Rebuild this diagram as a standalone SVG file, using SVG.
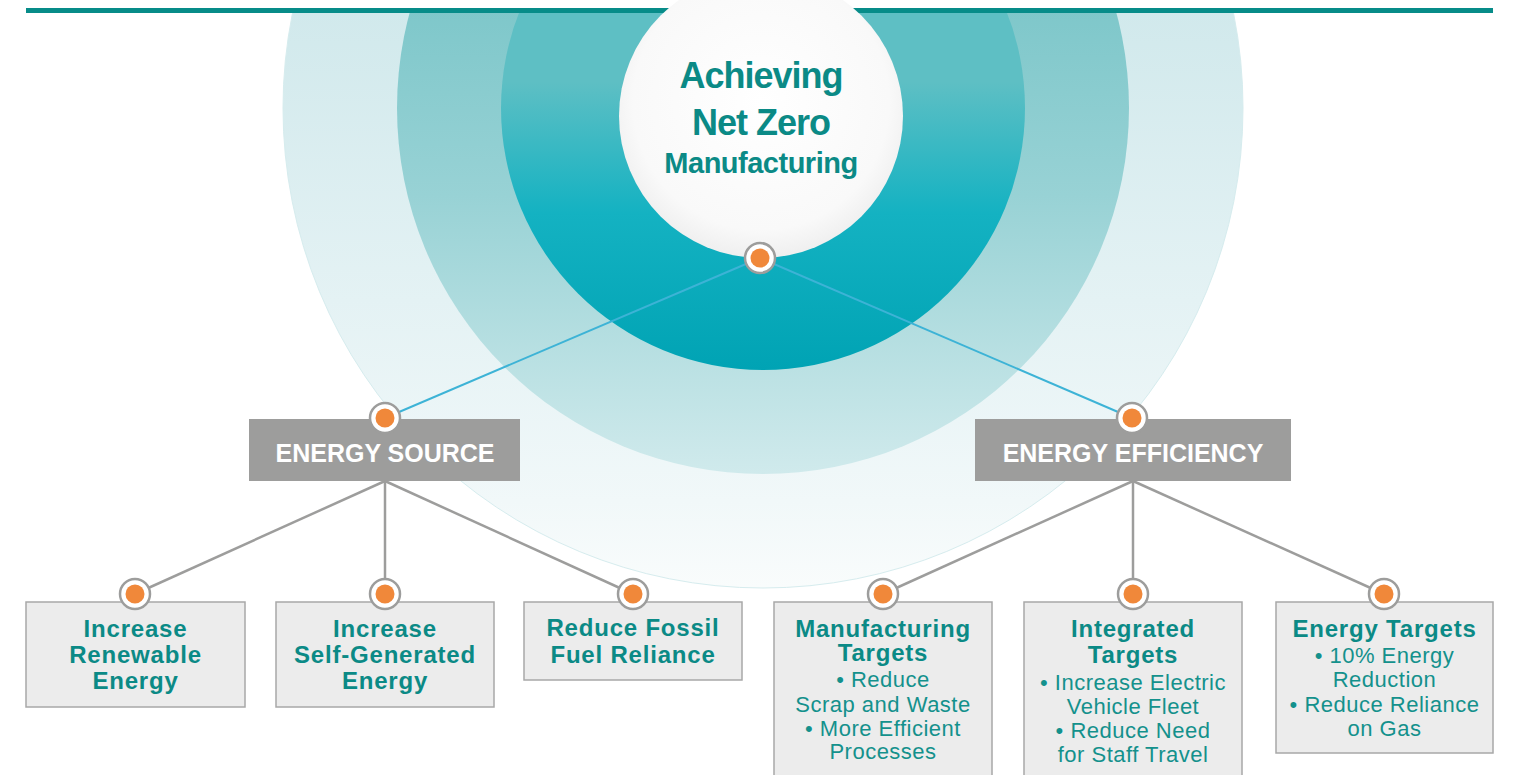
<svg xmlns="http://www.w3.org/2000/svg" width="1516" height="775" viewBox="0 0 1516 775">
  <style>
    .box { fill: #ececec; stroke: #a8a8a8; stroke-width: 1.5; }
    .head { fill: #9d9d9c; }
    .head-text { font-family: "Liberation Sans", Arial, sans-serif; font-weight: bold; font-size: 25px; fill: #ffffff; text-anchor: middle; }
    .title { font-family: "Liberation Sans", Arial, sans-serif; font-weight: bold; fill: #0b8a86; text-anchor: middle; }
    .lbl { font-family: "Liberation Sans", Arial, sans-serif; font-weight: bold; font-size: 24px; letter-spacing: 0.8px; fill: #0b8a86; text-anchor: middle; }
    .sub { font-family: "Liberation Sans", Arial, sans-serif; font-size: 22px; letter-spacing: 0.5px; fill: #14918c; text-anchor: middle; }
    .blue { stroke: #3db3d6; stroke-width: 2; fill: none; }
    .grey { stroke: #9d9d9c; stroke-width: 2.5; fill: none; }
    .ring { fill: #ffffff; stroke: #9d9d9c; stroke-width: 2.5; }
    .dot { fill: #f0883a; }
  </style>
  <defs>
    <linearGradient id="gOuter" x1="0" y1="0" x2="0" y2="1">
      <stop offset="0" stop-color="#cfe8eb"/>
      <stop offset="0.4" stop-color="#d1e9ec"/>
      <stop offset="0.7" stop-color="#e4f2f4"/>
      <stop offset="0.91" stop-color="#f1f8f9"/>
      <stop offset="1" stop-color="#f9fcfc"/>
    </linearGradient>
    <linearGradient id="gMid" x1="0" y1="0" x2="0" y2="1">
      <stop offset="0" stop-color="#7cc6c9"/>
      <stop offset="0.36" stop-color="#7ec7ca"/>
      <stop offset="0.62" stop-color="#98d2d5"/>
      <stop offset="1" stop-color="#d0eaec"/>
    </linearGradient>
    <linearGradient id="gInner" x1="0" y1="0" x2="0" y2="1">
      <stop offset="0" stop-color="#5ebfc4"/>
      <stop offset="0.45" stop-color="#5ebfc4"/>
      <stop offset="0.7" stop-color="#14b2c2"/>
      <stop offset="1" stop-color="#00a3b4"/>
    </linearGradient>
    <radialGradient id="gCore" cx="0.5" cy="0.45" r="0.55">
      <stop offset="0" stop-color="#ffffff"/>
      <stop offset="0.82" stop-color="#f9f9f9"/>
      <stop offset="1" stop-color="#efefef"/>
    </radialGradient>
    <clipPath id="below-bar">
      <rect x="0" y="8" width="1516" height="767"/>
    </clipPath>
    <g id="marker-dot">
      <circle class="ring" r="15"/>
      <circle class="dot" r="9.5"/>
    </g>
  </defs>

  <rect width="1516" height="775" fill="#ffffff"/>

  <!-- concentric backdrop -->
  <g id="backdrop" clip-path="url(#below-bar)">
    <circle cx="763" cy="108" r="480" fill="url(#gOuter)" stroke="#d6ecee" stroke-width="1"/>
    <circle cx="763" cy="108" r="366" fill="url(#gMid)"/>
    <circle cx="763" cy="108" r="262" fill="url(#gInner)"/>
  </g>
  <rect id="top-bar" x="26" y="8" width="1467" height="5" fill="#078c89"/>

  <!-- connectors -->
  <g id="connectors">
    <line class="blue" x1="760" y1="258" x2="385" y2="418"/>
    <line class="blue" x1="760" y1="258" x2="1132" y2="418"/>
    <line class="grey" x1="385" y1="481" x2="135" y2="594"/>
    <line class="grey" x1="385" y1="481" x2="385" y2="594"/>
    <line class="grey" x1="385" y1="481" x2="633" y2="594"/>
    <line class="grey" x1="1133" y1="481" x2="883" y2="594"/>
    <line class="grey" x1="1133" y1="481" x2="1133" y2="594"/>
    <line class="grey" x1="1133" y1="481" x2="1384" y2="594"/>
  </g>

  <!-- central goal -->
  <g id="node-goal">
    <circle cx="761" cy="116" r="142" fill="url(#gCore)"/>
    <text class="title" x="761" y="88" font-size="36" letter-spacing="-1">Achieving</text>
    <text class="title" x="761" y="135" font-size="36" letter-spacing="-1">Net Zero</text>
    <text class="title" x="761" y="173" font-size="29" letter-spacing="-0.5">Manufacturing</text>
    <use href="#marker-dot" x="760" y="258"/>
  </g>

  <!-- branch headers -->
  <g id="node-energy-source">
    <rect class="head" x="249" y="419" width="271" height="62"/>
    <text class="head-text" x="385" y="462">ENERGY SOURCE</text>
    <use href="#marker-dot" x="385" y="418"/>
  </g>
  <g id="node-energy-efficiency">
    <rect class="head" x="975" y="419" width="316" height="62"/>
    <text class="head-text" x="1133" y="462">ENERGY EFFICIENCY</text>
    <use href="#marker-dot" x="1132" y="418"/>
  </g>

  <!-- energy source leaves -->
  <g id="node-renewable">
    <rect class="box" x="26" y="602" width="219" height="105"/>
    <text class="lbl" x="135.5" y="637">Increase</text>
    <text class="lbl" x="135.5" y="663">Renewable</text>
    <text class="lbl" x="135.5" y="689">Energy</text>
    <use href="#marker-dot" x="135" y="594"/>
  </g>
  <g id="node-self-generated">
    <rect class="box" x="276" y="602" width="218" height="105"/>
    <text class="lbl" x="385" y="637">Increase</text>
    <text class="lbl" x="385" y="663">Self-Generated</text>
    <text class="lbl" x="385" y="689">Energy</text>
    <use href="#marker-dot" x="385" y="594"/>
  </g>
  <g id="node-fossil">
    <rect class="box" x="524" y="602" width="218" height="78"/>
    <text class="lbl" x="633" y="636">Reduce Fossil</text>
    <text class="lbl" x="633" y="662.5">Fuel Reliance</text>
    <use href="#marker-dot" x="633" y="594"/>
  </g>

  <!-- energy efficiency leaves -->
  <g id="node-manufacturing">
    <rect class="box" x="774" y="602" width="218" height="190"/>
    <text class="lbl" x="883" y="637">Manufacturing</text>
    <text class="lbl" x="883" y="661">Targets</text>
    <text class="sub" x="883" y="687">• Reduce</text>
    <text class="sub" x="883" y="711.5">Scrap and Waste</text>
    <text class="sub" x="883" y="735.5">• More Efficient</text>
    <text class="sub" x="883" y="759">Processes</text>
    <use href="#marker-dot" x="883" y="594"/>
  </g>
  <g id="node-integrated">
    <rect class="box" x="1024" y="602" width="218" height="190"/>
    <text class="lbl" x="1133" y="637">Integrated</text>
    <text class="lbl" x="1133" y="662.5">Targets</text>
    <text class="sub" x="1133" y="690">• Increase Electric</text>
    <text class="sub" x="1133" y="714">Vehicle Fleet</text>
    <text class="sub" x="1133" y="738">• Reduce Need</text>
    <text class="sub" x="1133" y="762">for Staff Travel</text>
    <use href="#marker-dot" x="1133" y="594"/>
  </g>
  <g id="node-energy-targets">
    <rect class="box" x="1276" y="602" width="217" height="151"/>
    <text class="lbl" x="1384.5" y="637">Energy Targets</text>
    <text class="sub" x="1384.5" y="663">• 10% Energy</text>
    <text class="sub" x="1384.5" y="687">Reduction</text>
    <text class="sub" x="1384.5" y="712">• Reduce Reliance</text>
    <text class="sub" x="1384.5" y="736">on Gas</text>
    <use href="#marker-dot" x="1384" y="594"/>
  </g>
</svg>
